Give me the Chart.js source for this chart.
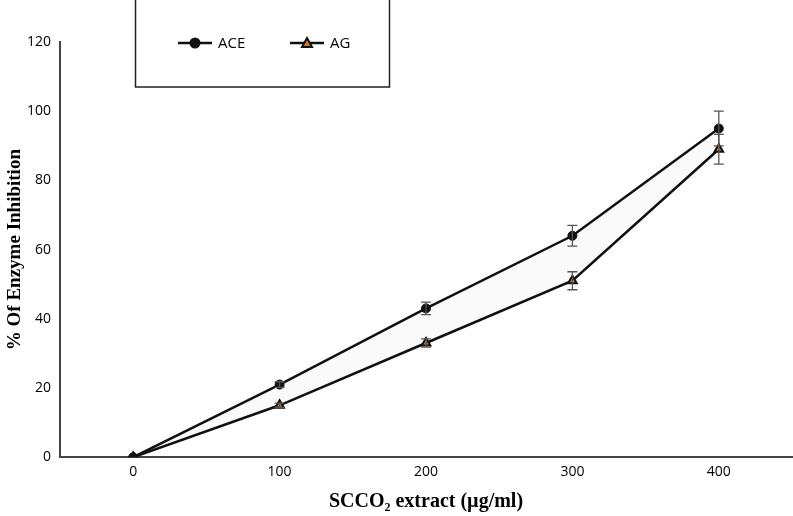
<!DOCTYPE html>
<html>
<head>
<meta charset="utf-8">
<script src="https://cdn.jsdelivr.net/npm/chart.js@4.4.1/dist/chart.umd.min.js"></script>
<style>
  html, body { margin: 0; padding: 0; background: #fff; overflow: hidden; }
  #wrap { width: 793px; height: 516px; position: relative; overflow: hidden; }
</style>
</head>
<body>
<div id="wrap"><canvas id="chart" width="799" height="516"></canvas></div>
<script>
// data
const doses = ["0", "100", "200", "300", "400"];
const aceValues = [0, 21, 43, 64, 95];
const aceErrors = [0, 0.8, 1.8, 3, 5];
const agValues = [0, 15, 33, 51, 89];
const agErrors = [0, 0.6, 1.2, 2.6, 4.3];
const yTicks = [0, 20, 40, 60, 80, 100, 120];

// error bars drawn from the errors arrays
const errorBars = {
  id: "errorBars",
  afterDatasetsDraw(chart) {
    const ctx = chart.ctx;
    const y = chart.scales.y;
    ctx.save();
    ctx.strokeStyle = "#555";
    ctx.lineWidth = 1.3;
    chart.data.datasets.forEach((ds, i) => {
      const meta = chart.getDatasetMeta(i);
      meta.data.forEach((pt, j) => {
        const e = ds.errors[j];
        if (!e) return;
        const top = y.getPixelForValue(ds.data[j] + e);
        const bot = y.getPixelForValue(ds.data[j] - e);
        ctx.beginPath();
        ctx.moveTo(pt.x, top); ctx.lineTo(pt.x, bot);
        ctx.moveTo(pt.x - 5, top); ctx.lineTo(pt.x + 5, top);
        ctx.moveTo(pt.x - 5, bot); ctx.lineTo(pt.x + 5, bot);
        ctx.stroke();
      });
    });
    ctx.restore();
  }
};

// boxed legend like the original
const boxLegend = {
  id: "boxLegend",
  afterDraw(chart) {
    const ctx = chart.ctx;
    ctx.save();
    ctx.strokeStyle = "#222";
    ctx.lineWidth = 1.5;
    ctx.strokeRect(135.5, -2, 254, 89);
    const items = [
      { x: 178, label: chart.data.datasets[0].label, style: "circle", ds: chart.data.datasets[0] },
      { x: 290, label: chart.data.datasets[1].label, style: "triangle", ds: chart.data.datasets[1] }
    ];
    const yy = 43;
    items.forEach(it => {
      ctx.strokeStyle = "#111";
      ctx.lineWidth = 2.5;
      ctx.beginPath();
      ctx.moveTo(it.x, yy); ctx.lineTo(it.x + 34, yy);
      ctx.stroke();
      ctx.fillStyle = it.ds.pointBackgroundColor;
      ctx.strokeStyle = it.ds.pointBorderColor;
      ctx.lineWidth = 2;
      ctx.beginPath();
      if (it.style === "circle") {
        ctx.arc(it.x + 17, yy, 4.5, 0, Math.PI * 2);
      } else {
        ctx.moveTo(it.x + 17, yy - 5);
        ctx.lineTo(it.x + 22, yy + 4);
        ctx.lineTo(it.x + 12, yy + 4);
        ctx.closePath();
      }
      ctx.fill();
      ctx.stroke();
      ctx.fillStyle = "#000";
      ctx.font = "15px 'Open Sans', sans-serif";
      ctx.textBaseline = "middle";
      ctx.fillText(it.label, it.x + 40, yy + 1);
    });
    ctx.restore();
  }
};

new Chart(document.getElementById("chart"), {
  type: "line",
  data: {
    labels: doses,
    datasets: [
      {
        label: "ACE",
        data: aceValues,
        errors: aceErrors,
        borderColor: "#111",
        borderWidth: 2.5,
        backgroundColor: "rgba(0,0,0,0.02)",
        fill: "+1",
        pointStyle: "circle",
        pointRadius: 4.5,
        pointBackgroundColor: "#111",
        pointBorderColor: "#111",
        pointBorderWidth: 1
      },
      {
        label: "AG",
        data: agValues,
        errors: agErrors,
        borderColor: "#111",
        borderWidth: 2.5,
        fill: false,
        pointStyle: "triangle",
        pointRadius: 5,
        pointBackgroundColor: "#c8782f",
        pointBorderColor: "#111",
        pointBorderWidth: 2
      }
    ]
  },
  options: {
    responsive: false,
    animation: false,
    layout: { padding: { top: 42, right: 0, left: 4, bottom: 2 } },
    plugins: {
      legend: { display: false },
      tooltip: { enabled: false }
    },
    scales: {
      x: {
        offset: true,
        grid: { display: false, drawTicks: false },
        border: { color: "#444", width: 2 },
        ticks: { color: "#000", font: { family: "'Open Sans', sans-serif", size: 14 }, padding: 6 },
        title: {
          display: true,
          text: "SCCO\u2082 extract (\u00b5g/ml)",
          color: "#000",
          font: { family: "'Liberation Serif', serif", size: 20, weight: "bold" },
          padding: { top: 4, bottom: 0 }
        }
      },
      y: {
        min: 0,
        max: 120,
        afterBuildTicks(scale) { scale.ticks = yTicks.map(v => ({ value: v })); },
        afterFit(scale) { scale.width = 56; },
        grid: { display: false, drawTicks: false },
        border: { color: "#444", width: 2 },
        ticks: { color: "#000", font: { family: "'Open Sans', sans-serif", size: 14 }, padding: 9 },
        title: {
          display: true,
          text: "% Of Enzyme Inhibition",
          color: "#000",
          font: { family: "'Liberation Serif', serif", size: 19, weight: "bold" },
          padding: { top: 0, bottom: 0 }
        }
      }
    }
  },
  plugins: [errorBars, boxLegend]
});
</script>
</body>
</html>
